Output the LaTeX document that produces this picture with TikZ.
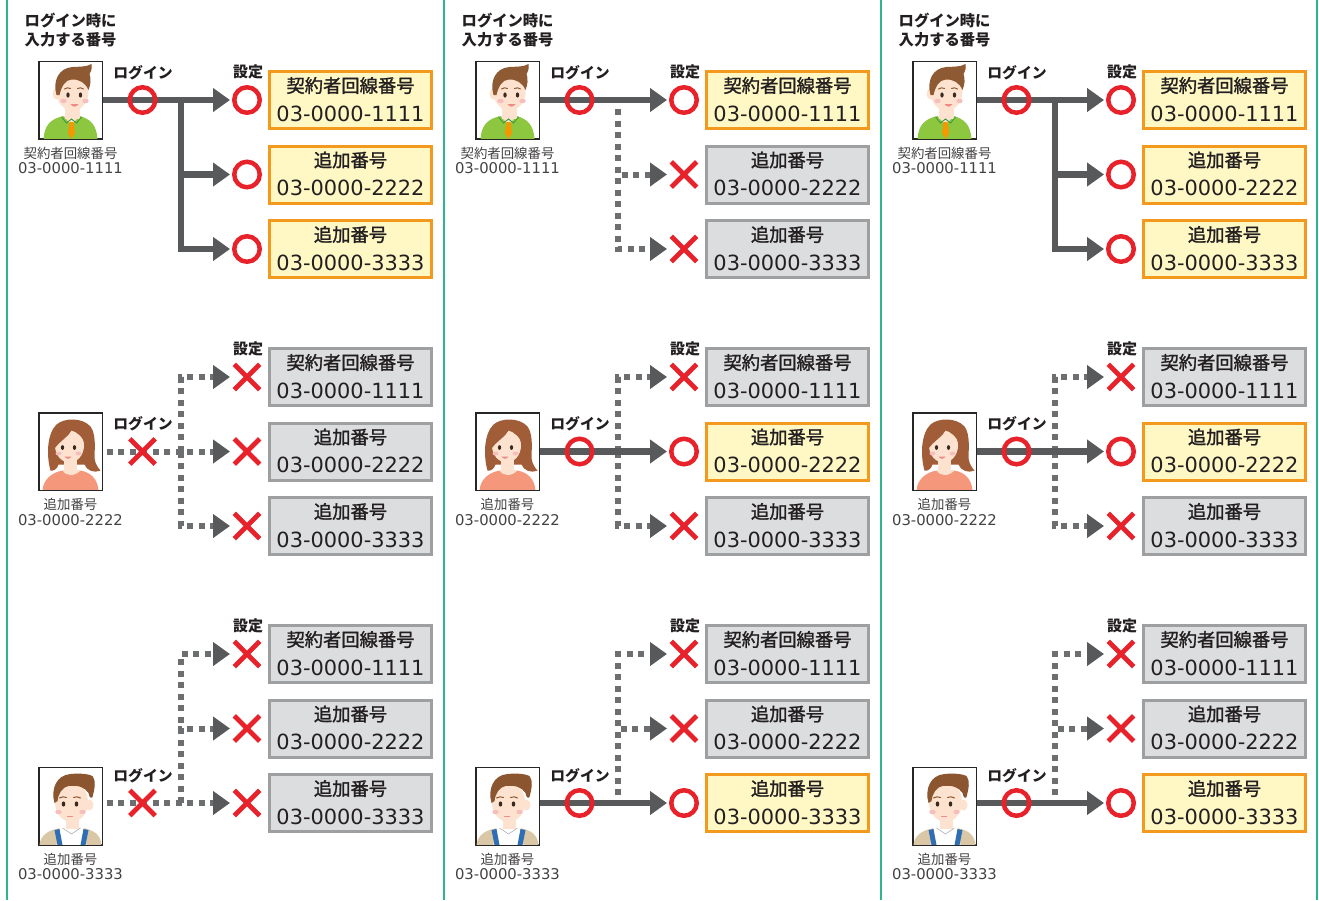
\documentclass[tikz,border=0pt]{standalone}
\usepackage{fontspec}
\setmainfont{Noto Sans CJK JP}
\newfontfamily\jpf{Noto Sans CJK JP}
\newfontfamily\jpm[FakeBold=1.4]{Noto Sans CJK JP}
\newfontfamily\numf{DejaVu Sans}
\usetikzlibrary{arrows.meta,shapes.misc}
\definecolor{lineg}{HTML}{58595B}
\definecolor{dotg}{HTML}{6D6E70}
\definecolor{mkred}{HTML}{E8222B}
\definecolor{boxyl}{HTML}{FFF8C5}
\definecolor{boxor}{HTML}{F39A1E}
\definecolor{boxgf}{HTML}{DCDDDE}
\definecolor{boxgd}{HTML}{9E9FA0}
\definecolor{sepg}{HTML}{2DB58D}
\definecolor{txt}{HTML}{231F20}
\definecolor{skin}{HTML}{FDE3CF}
\definecolor{hairA}{HTML}{8E5A33}
\definecolor{hairB}{HTML}{A15C38}
\definecolor{hairC}{HTML}{8B5530}
\definecolor{shgreen}{HTML}{8DC63F}
\definecolor{shdark}{HTML}{3E9B3E}
\definecolor{tieor}{HTML}{F39800}
\definecolor{cheek}{HTML}{F7BDBD}
\definecolor{eyec}{HTML}{3B2A20}
\definecolor{mouthc}{HTML}{EE8A8A}
\definecolor{salmon}{HTML}{F4977A}
\definecolor{beige}{HTML}{D9C7A6}
\definecolor{susp}{HTML}{2F6DB5}
\tikzset{
  solidln/.style={draw=lineg, line width=6.5pt, line join=miter, -{Triangle[length=17pt,width=23pt,color=lineg]}},
  dotln/.style={draw=dotg, line width=6pt, dash pattern=on 6pt off 5.5pt, -{Triangle[length=17pt,width=23pt,color=lineg]}},
  okmk/.style={circle, draw=mkred, line width=4.5pt, minimum size=25.5pt, inner sep=0pt},
  ngmk/.style={cross out, draw=mkred, line width=4.8pt, minimum size=20.5pt, inner sep=0pt},
  okbox/.style={rectangle, draw=boxor, fill=boxyl, line width=3pt, minimum width=162pt, minimum height=57pt, inner sep=0pt},
  ngbox/.style={rectangle, draw=boxgd, fill=boxgf, line width=3pt, minimum width=162pt, minimum height=57pt, inner sep=0pt},
  jptxt/.style={font=\jpm\fontsize{18.3}{20}\selectfont, text=txt, inner sep=0pt},
  numtxt/.style={font=\numf\fontsize{20.9}{24}\selectfont, text=txt, inner sep=0pt},
  avbox/.style={rectangle, draw=black!85, fill=white, line width=1pt, minimum width=63pt, minimum height=77pt, inner sep=0pt},
  avlbl/.style={font=\jpf\fontsize{13.4}{15}\selectfont, text=txt!85, inner sep=0pt},
  avnum/.style={font=\numf\fontsize{14.8}{16}\selectfont, text=txt!85, inner sep=0pt},
  loglbl/.style={font=\jpf\bfseries\fontsize{14.8}{16}\selectfont, text=txt, inner sep=0pt},
  setlbl/.style={font=\jpf\bfseries\fontsize{15}{16}\selectfont, text=txt, inner sep=0pt},
  titlelbl/.style={font=\jpf\bfseries\fontsize{15.3}{18.5}\selectfont, text=txt, inner sep=0pt, align=left, anchor=north west},
  sepline/.style={draw=sepg, line width=2pt}
}
\newcommand\faceA{%
  \fill[shgreen] (5,78) .. controls (6,64) and (12,58) .. (25,55) -- (41,55) .. controls (52,58) and (58,64) .. (59,78) -- cycle;
  \fill[skin] (26,42) rectangle (41,58);
  \fill[skin] (25,55) -- (33,64) -- (41,55) -- cycle;
  \draw[shdark, line width=0.9pt] (23,56) -- (28,62) -- (33,58) -- (38,62) -- (43,56);
  \fill[tieor] (31,61) -- (35,61) -- (36.5,72) -- (33,78) -- (29.5,72) -- cycle;
  \fill[skin] (18,33) ellipse (4 and 5.5);
  \fill[skin] (34,31) ellipse (16 and 18.5);
  \fill[hairA] (18,34) .. controls (14,20) and (20,7) .. (34,6) .. controls (42,5.5) and (48,6) .. (53,3) .. controls (54,8) and (52,11) .. (51,13) .. controls (53,18) and (52,24) .. (50,29) .. controls (47,22) and (41,18) .. (33,18.5) .. controls (27,19) and (23,25) .. (21,34) -- cycle;
  \draw[hairA, line width=1pt, line cap=round] (26,28) .. controls (28,26.5) and (30,26.5) .. (32,27.5);
  \draw[hairA, line width=1pt, line cap=round] (39,27.5) .. controls (41,26.5) and (43,26.5) .. (45,28);
  \fill[eyec] (29.5,34) ellipse (1.7 and 2.6);
  \fill[eyec] (42,34) ellipse (1.7 and 2.6);
  \fill[cheek] (25,40) ellipse (3.2 and 2.2);
  \fill[cheek] (47,40) ellipse (3.2 and 2.2);
  \fill[mouthc] (32,43) .. controls (34,46.5) and (38,46.5) .. (40,43) -- cycle;
}
\newcommand\faceB{%
  \fill[hairB] (12,58) .. controls (8,44) and (8,22) .. (18,12) .. controls (26,5) and (44,5) .. (52,14) .. controls (58,22) and (56,38) .. (56,46) .. controls (57,52) and (60,56) .. (62,58) .. controls (56,61) and (48,58) .. (46,52) -- (20,52) .. controls (19,56) and (15,59) .. (12,58) -- cycle;
  \fill[salmon] (4,78) .. controls (5,66) and (14,60) .. (24,58) -- (42,58) .. controls (52,60) and (59,66) .. (60,78) -- cycle;
  \fill[skin] (25,44) rectangle (38,58);
  \fill[skin] (24,58) .. controls (28,64) and (36,64) .. (42,58) -- cycle;
  \fill[skin] (31,33) ellipse (14.5 and 17);
  \fill[hairB] (16,36) .. controls (14,20) and (22,12) .. (33,12) .. controls (42,12) and (48,20) .. (47,32) .. controls (44,24) and (38,19) .. (33,18) .. controls (30,24) and (22,28) .. (16,36) -- cycle;
  \fill[eyec] (24,35) ellipse (1.6 and 2.4);
  \fill[eyec] (36,35) ellipse (1.6 and 2.4);
  \fill[cheek] (20,41) ellipse (3 and 2);
  \fill[cheek] (40,41) ellipse (3 and 2);
  \fill[mouthc] (26,44) .. controls (28,47) and (31,47) .. (33,44) -- cycle;
}
\newcommand\faceC{%
  \fill[beige] (1,78) .. controls (2,68) and (10,63) .. (22,61) -- (44,61) .. controls (56,63) and (62,68) .. (63,78) -- cycle;
  \fill[white] (18,78) -- (21,61) -- (45,61) -- (48,78) -- cycle;
  \fill[susp] (16,63) -- (21,62) -- (24,78) -- (19,78) -- cycle;
  \fill[susp] (45,62) -- (50,63) -- (47,78) -- (42,78) -- cycle;
  \fill[skin] (27,48) rectangle (40,62);
  \draw[black!30, line width=0.6pt] (24,61) -- (33,67) -- (42,61);
  \fill[skin] (51,38) ellipse (4 and 5.5);
  \fill[skin] (33,35) ellipse (16.5 and 20);
  \fill[hairC] (16,36) .. controls (12,22) and (18,8) .. (32,7) .. controls (42,6) and (50,7) .. (54,9) .. controls (58,14) and (56,22) .. (54,30) .. controls (52,32) and (51,30) .. (50,26) .. controls (46,20) and (40,18) .. (30,19) .. controls (24,20) and (20,26) .. (19,34) -- cycle;
  \draw[hairC, line width=1pt, line cap=round] (21,31) .. controls (23,29.5) and (26,29.5) .. (28,30.5);
  \draw[hairC, line width=1pt, line cap=round] (35,30.5) .. controls (37,29.5) and (40,29.5) .. (42,31);
  \fill[eyec] (25,37) ellipse (1.8 and 2.6);
  \fill[eyec] (38,37) ellipse (1.8 and 2.6);
  \fill[cheek] (20,45) ellipse (3.2 and 2.2);
  \fill[cheek] (44,45) ellipse (3.2 and 2.2);
  \draw[mouthc, line width=1pt, line cap=round] (29,49) -- (34,49);
}
% avatar: prefix, x, y, face, label, number
\newcommand\avatar[6]{%
  \node[avbox] (#1av) at (#2+70.5,#3) {};
  \begin{scope}
    \clip (#1av.north west) rectangle (#1av.south east);
    \begin{scope}[shift={(#1av.north west)}]
      \csname face#4\endcsname
    \end{scope}
  \end{scope}
  \draw[draw=black!85, line width=1pt] (#1av.north west) rectangle (#1av.south east);
  \node[avlbl] (#1l1) at ([yshift=-14pt]#1av.south) {#5};
  \node[avnum] (#1l2) at ([yshift=-29.5pt]#1av.south) {#6};
}
% text box: name, x, y, style, jp, number
\newcommand\tbox[6]{%
  \node[#4] (#1) at (#2,#3) {};
  \node[jptxt] (#1j) at ([yshift=14.5pt]#1.center) {#5};
  \node[numtxt] (#1n) at ([yshift=-13.5pt]#1.center) {#6};
}
% three boxes: prefix, X, Y, s1, s2, s3
\newcommand\threeboxes[6]{%
  \coordinate (#1t1) at (#2+230,#3);
  \coordinate (#1t2) at (#2+230,#3+74.5);
  \coordinate (#1t3) at (#2+230,#3+149);
  \tbox{#1b1}{#2+350.5}{#3}{#4box}{契約者回線番号}{03-0000-1111}
  \tbox{#1b2}{#2+350.5}{#3+74.5}{#5box}{追加番号}{03-0000-2222}
  \tbox{#1b3}{#2+350.5}{#3+149}{#6box}{追加番号}{03-0000-3333}
  \node[setlbl] (#1set) at (#2+248,#3-28.5) {設定};
}
\newcommand\threemarks[6]{%
  \node[#4mk] (#1m1) at (#2+247,#3) {};
  \node[#5mk] (#1m2) at (#2+247,#3+74.5) {};
  \node[#6mk] (#1m3) at (#2+247,#3+149) {};
}
% login label & mark: prefix, X, L, state
\newcommand\login[4]{%
  \node[loglbl] (#1lg) at (#2+143,#3-27.5) {ログイン};
  \node[#4mk] (#1lm) at (#2+142.5,#3) {};
}
\begin{document}
\begin{tikzpicture}[x=1pt,y=-1pt]
\fill[white] (0,0) rectangle (1319,900);
\useasboundingbox (0,0) rectangle (1319,900);
\draw[sepline] (7,0) -- (7,900);
\draw[sepline] (444,0) -- (444,900);
\draw[sepline] (881,0) -- (881,900);
\draw[sepline] (1317,0) -- (1317,900);
% titles
\node[titlelbl] (ttl1) at (24.5,13) {ログイン時に\\入力する番号};
\node[titlelbl] (ttl2) at (461.5,13) {ログイン時に\\入力する番号};
\node[titlelbl] (ttl3) at (898.5,13) {ログイン時に\\入力する番号};

% ===== Panel 1 =====
% row a
\avatar{a}{0}{100}{A}{契約者回線番号}{03-0000-1111}
\threeboxes{a}{0}{100}{ok}{ok}{ok}
\coordinate (abr) at (181,100);
\draw[solidln] (aav.east |- at1) -- (at1);
\draw[solidln] (abr) |- (at2);
\draw[solidln] (abr) |- (at3);
\login{a}{0}{100}{ok}
\threemarks{a}{0}{100}{ok}{ok}{ok}
% row b
\avatar{b}{0}{451.5}{B}{追加番号}{03-0000-2222}
\threeboxes{b}{0}{377}{ng}{ng}{ng}
\coordinate (bbr) at (181,451.5);
\draw[dotln, shorten <=4pt] (bav.east |- bt2) -- (bt2);
\draw[dotln] (bbr) |- (bt1);
\draw[dotln] (bbr) |- (bt3);
\login{b}{0}{451.5}{ng}
\threemarks{b}{0}{377}{ng}{ng}{ng}
% row c
\avatar{c}{0}{806}{C}{追加番号}{03-0000-3333}
\threeboxes{c}{0}{654}{ng}{ng}{ng}
\coordinate (cbr) at (181,803);
\draw[dotln, shorten <=4pt] (cav.east |- ct3) -- (ct3);
\draw[dotln] (cbr) |- (ct1);
\draw[dotln] (cbr) |- (ct2);
\login{c}{0}{803}{ng}
\threemarks{c}{0}{654}{ng}{ng}{ng}

% ===== Panel 2 =====
% row d
\avatar{d}{437}{100}{A}{契約者回線番号}{03-0000-1111}
\threeboxes{d}{437}{100}{ok}{ng}{ng}
\coordinate (dbr) at (618,109);
\draw[dotln] (dbr) |- (dt2);
\draw[dotln] (dbr) |- (dt3);
\draw[solidln] (dav.east |- dt1) -- (dt1);
\login{d}{437}{100}{ok}
\threemarks{d}{437}{100}{ok}{ng}{ng}
% row e
\avatar{e}{437}{451.5}{B}{追加番号}{03-0000-2222}
\threeboxes{e}{437}{377}{ng}{ok}{ng}
\coordinate (ebr) at (618,451.5);
\draw[dotln] (ebr) |- (et1);
\draw[dotln] (ebr) |- (et3);
\draw[solidln] (eav.east |- et2) -- (et2);
\login{e}{437}{451.5}{ok}
\threemarks{e}{437}{377}{ng}{ok}{ng}
% row f
\avatar{f}{437}{806}{C}{追加番号}{03-0000-3333}
\threeboxes{f}{437}{654}{ng}{ng}{ok}
\coordinate (fbr) at (618,795);
\draw[dotln] (fbr) |- (ft1);
\draw[dotln] (fbr) |- (ft2);
\draw[solidln] (fav.east |- ft3) -- (ft3);
\login{f}{437}{803}{ok}
\threemarks{f}{437}{654}{ng}{ng}{ok}

% ===== Panel 3 =====
% row g
\avatar{g}{874}{100}{A}{契約者回線番号}{03-0000-1111}
\threeboxes{g}{874}{100}{ok}{ok}{ok}
\coordinate (gbr) at (1055,100);
\draw[solidln] (gav.east |- gt1) -- (gt1);
\draw[solidln] (gbr) |- (gt2);
\draw[solidln] (gbr) |- (gt3);
\login{g}{874}{100}{ok}
\threemarks{g}{874}{100}{ok}{ok}{ok}
% row h
\avatar{h}{874}{451.5}{B}{追加番号}{03-0000-2222}
\threeboxes{h}{874}{377}{ng}{ok}{ng}
\coordinate (hbr) at (1055,451.5);
\draw[dotln] (hbr) |- (ht1);
\draw[dotln] (hbr) |- (ht3);
\draw[solidln] (hav.east |- ht2) -- (ht2);
\login{h}{874}{451.5}{ok}
\threemarks{h}{874}{377}{ng}{ok}{ng}
% row i
\avatar{i}{874}{806}{C}{追加番号}{03-0000-3333}
\threeboxes{i}{874}{654}{ng}{ng}{ok}
\coordinate (ibr) at (1055,795);
\draw[dotln] (ibr) |- (it1);
\draw[dotln] (ibr) |- (it2);
\draw[solidln] (iav.east |- it3) -- (it3);
\login{i}{874}{803}{ok}
\threemarks{i}{874}{654}{ng}{ng}{ok}
\end{tikzpicture}
\end{document}
